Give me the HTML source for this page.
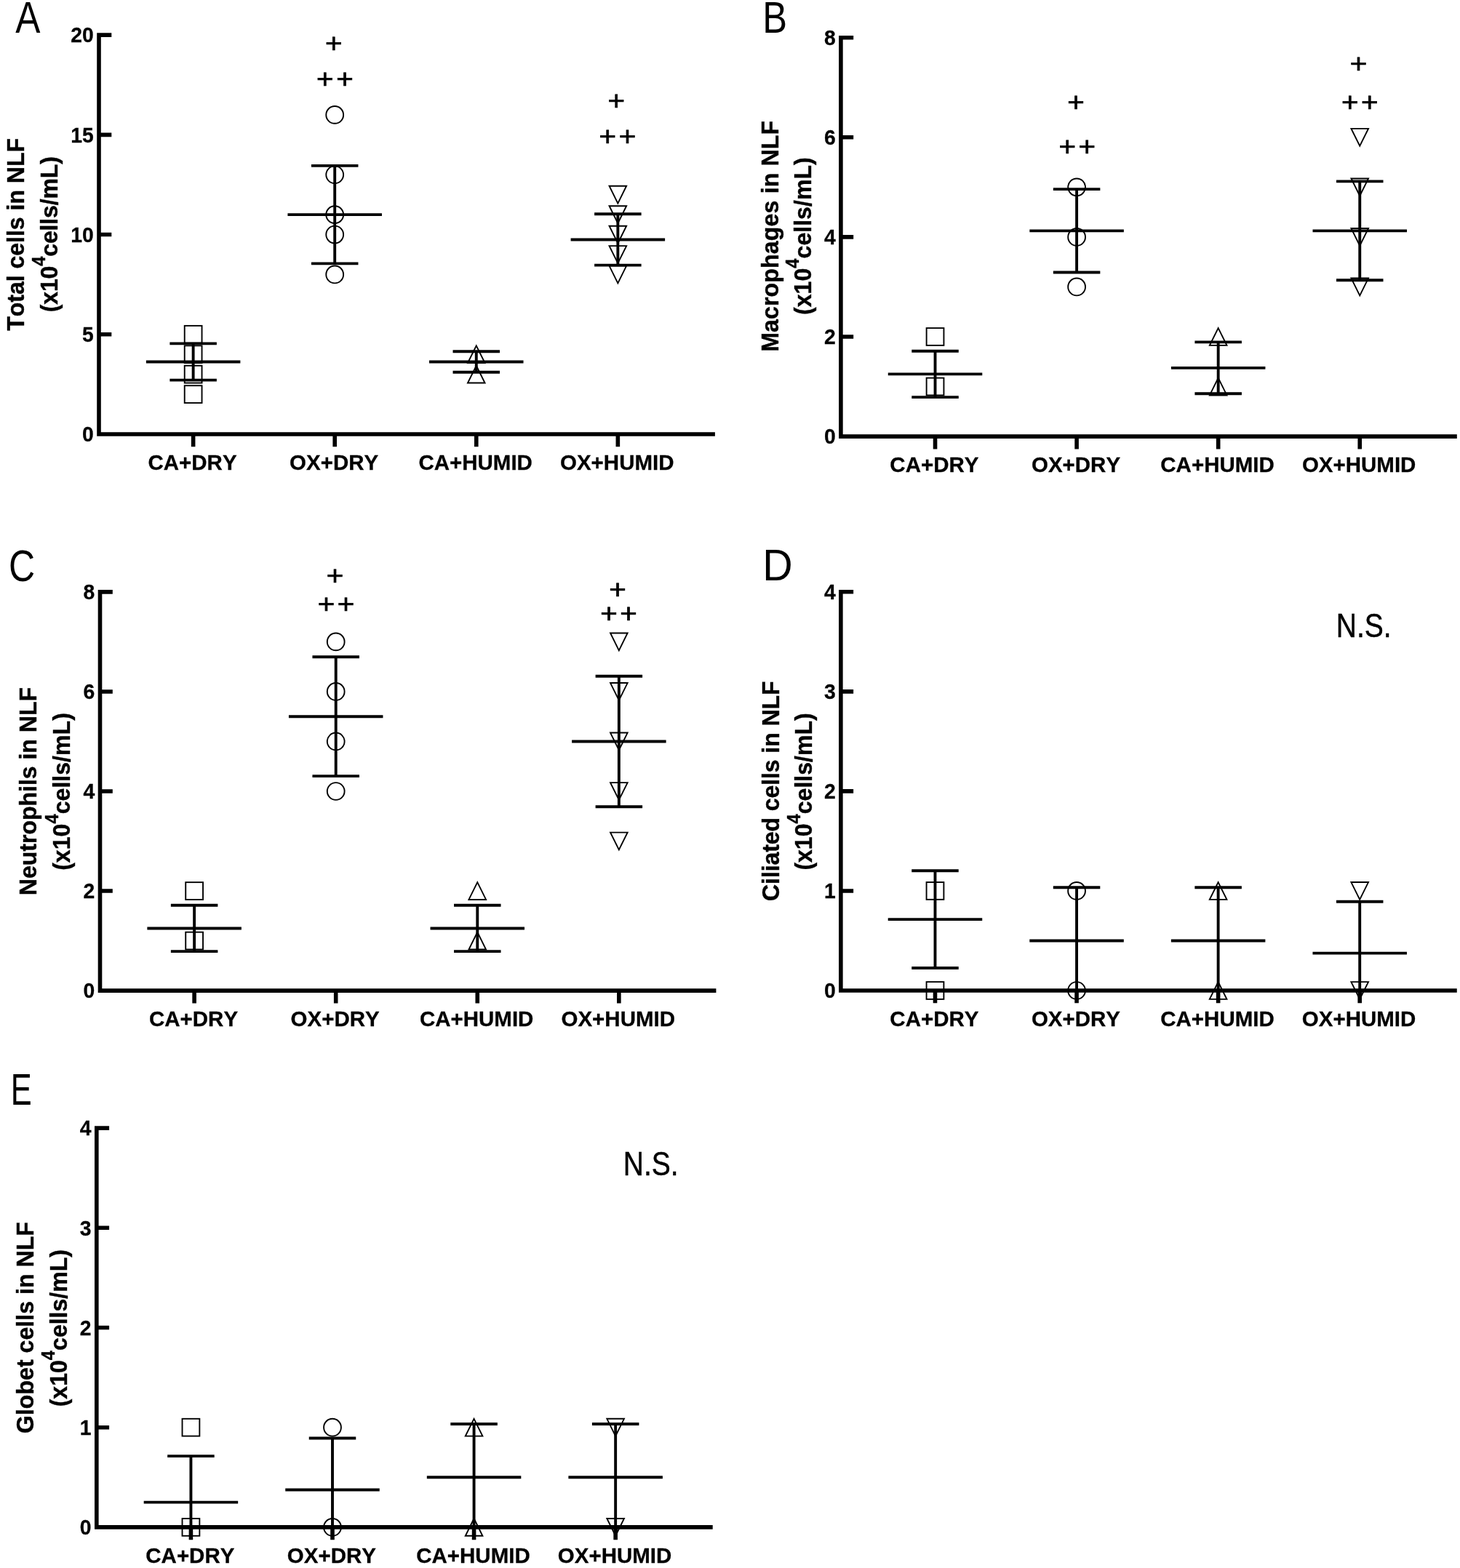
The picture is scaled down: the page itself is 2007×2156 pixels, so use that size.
<!DOCTYPE html>
<html lang="en">
<head>
<meta charset="utf-8">
<title>Cells in NLF</title>
<style>
html,body{margin:0;padding:0;background:#fff;}
body{width:2007px;height:2156px;overflow:hidden;}
svg{display:block;}
text{font-family:"Liberation Sans",Arial,Helvetica,sans-serif;fill:#000;font-kerning:none;}
.pl{font-size:60.3px;}
.ns{font-size:47px;stroke:#000;stroke-width:0.5px;}
.yt{font-size:32px;font-weight:bold;text-anchor:middle;stroke:#000;stroke-width:0.4px;}
.sup{font-size:23.8px;}
.y2{letter-spacing:-0.15px;}
.tl{font-size:29.5px;font-weight:bold;text-anchor:end;stroke:#000;stroke-width:0.3px;}
.xl{font-size:29.5px;font-weight:bold;text-anchor:middle;stroke:#000;stroke-width:0.3px;}
.ps{font-size:40.3px;stroke:#000;stroke-width:0.8px;}
.mk{fill:none;stroke:#000;stroke-width:1.9px;}
.eb{fill:none;stroke:#000;stroke-width:3.9px;}
.ax{fill:none;stroke:#000;stroke-width:5.6px;stroke-linejoin:miter;}
</style>
</head>
<body>
<svg xmlns="http://www.w3.org/2000/svg" width="2007" height="2156" viewBox="0 0 2007 2156">
<rect width="2007" height="2156" fill="#fff"/>
<g class="panel">
<text class="pl" transform="translate(21.3 45.1) scale(0.85 1)">A</text>
<text class="yt" style="letter-spacing:0px" transform="translate(32.9 322.38) rotate(-90) scale(1 1.065)">Total cells in NLF</text>
<text class="yt" style="letter-spacing:-0.15px" transform="translate(78.5 322.27) rotate(-90) scale(1 1.065)">(x10<tspan class="sup" dy="-15.3">4</tspan><tspan dy="15.3">cells/mL)</tspan></text>
<g class="mk">
<rect x="253.73" y="530.22" width="23.8" height="23.8"/>
<rect x="253.73" y="502.77" width="23.8" height="23.8"/>
<rect x="253.73" y="475.33" width="23.8" height="23.8"/>
<rect x="253.73" y="447.89" width="23.8" height="23.8"/>
<circle cx="460.2" cy="377.46" r="11.9"/>
<circle cx="460.2" cy="322.57" r="11.9"/>
<circle cx="460.2" cy="295.13" r="11.9"/>
<circle cx="460.2" cy="240.25" r="11.9"/>
<circle cx="460.2" cy="157.92" r="11.9"/>
<path d="M654.77 502.77L666.57 526.57L642.97 526.57Z"/>
<path d="M654.77 475.33L666.57 499.13L642.97 499.13Z"/>
<path d="M849.35 389.36L861.15 365.56L837.55 365.56Z"/>
<path d="M849.35 361.92L861.15 338.12L837.55 338.12Z"/>
<path d="M849.35 334.47L861.15 310.68L837.55 310.68Z"/>
<path d="M849.35 307.03L861.15 283.23L837.55 283.23Z"/>
<path d="M849.35 279.59L861.15 255.79L837.55 255.79Z"/>
</g>
<g class="eb">
<path d="M200.88 497.52H330.38M233.38 472.38H297.88M233.38 522.66H297.88M265.63 472.38V522.66"/>
<path d="M395.45 295.13H524.95M427.95 227.91H492.45M427.95 362.35H492.45M460.2 227.91V362.35"/>
<path d="M590.02 497.52H719.52M622.52 483.32H687.02M622.52 511.72H687.02M654.77 483.32V511.72"/>
<path d="M784.6 329.44H914.1M817.1 294.26H881.6M817.1 364.61H881.6M849.35 294.26V364.61"/>
</g>
<path class="ax" d="M136 45.35V597H982.9M136 459.79H153.3M136 322.57H153.3M136 185.36H153.3M136 48.15H153.3M265.63 597V614.3M460.2 597V614.3M654.77 597V614.3M849.35 597V614.3"/>
<text class="tl" transform="translate(128.8 607.2) scale(0.96 1)">0</text>
<text class="tl" transform="translate(128.8 469.99) scale(0.96 1)">5</text>
<text class="tl" transform="translate(128.8 332.77) scale(0.96 1)">10</text>
<text class="tl" transform="translate(128.8 195.56) scale(0.96 1)">15</text>
<text class="tl" transform="translate(128.8 58.35) scale(0.96 1)">20</text>
<text class="xl" transform="translate(264.53 645.7) scale(1 1.015)">CA+DRY</text>
<text class="xl" transform="translate(459.1 645.7) scale(1 1.015)">OX+DRY</text>
<text class="xl" transform="translate(653.67 645.7) scale(1 1.015)">CA+HUMID</text>
<text class="xl" transform="translate(848.25 645.7) scale(1 1.015)">OX+HUMID</text>
<text class="ps" transform="translate(458.8 60) scale(1 0.925)" x="-11.76" y="13.4">+</text>
<text class="ps" transform="translate(460.4 108.9) scale(1 0.925)" x="-25.31 1.79" y="13.4">++</text>
<text class="ps" transform="translate(847.3 138.6) scale(1 0.925)" x="-11.76" y="13.4">+</text>
<text class="ps" transform="translate(848.9 187.6) scale(1 0.925)" x="-25.31 1.79" y="13.4">++</text>
</g>
<g class="panel">
<text class="pl" transform="translate(1048.14 45.1) scale(0.84 1)">B</text>
<text class="yt" style="letter-spacing:0.2px" transform="translate(1069.5 324.75) rotate(-90) scale(1 1.065)">Macrophages in NLF</text>
<text class="yt" style="letter-spacing:0.05px" transform="translate(1114.5 324.65) rotate(-90) scale(1 1.065)">(x10<tspan class="sup" dy="-15.3">4</tspan><tspan dy="15.3">cells/mL)</tspan></text>
<g class="mk">
<rect x="1273.63" y="519.65" width="23.8" height="23.8"/>
<rect x="1273.63" y="451.1" width="23.8" height="23.8"/>
<circle cx="1480.1" cy="394.45" r="11.9"/>
<circle cx="1480.1" cy="325.9" r="11.9"/>
<circle cx="1480.1" cy="257.35" r="11.9"/>
<path d="M1674.67 519.65L1686.47 543.45L1662.87 543.45Z"/>
<path d="M1674.67 451.1L1686.47 474.9L1662.87 474.9Z"/>
<path d="M1869.25 406.35L1881.05 382.55L1857.45 382.55Z"/>
<path d="M1869.25 337.8L1881.05 314L1857.45 314Z"/>
<path d="M1869.25 269.25L1881.05 245.45L1857.45 245.45Z"/>
<path d="M1869.25 200.7L1881.05 176.9L1857.45 176.9Z"/>
</g>
<g class="eb">
<path d="M1220.78 514.41H1350.28M1253.28 482.68H1317.78M1253.28 546.14H1317.78M1285.53 482.68V546.14"/>
<path d="M1415.35 317.33H1544.85M1447.85 260.12H1512.35M1447.85 374.54H1512.35M1480.1 260.12V374.54"/>
<path d="M1609.92 505.84H1739.42M1642.42 470.37H1706.92M1642.42 541.32H1706.92M1674.67 470.37V541.32"/>
<path d="M1804.5 317.33H1934M1837 249.4H1901.5M1837 385.27H1901.5M1869.25 249.4V385.27"/>
</g>
<path class="ax" d="M1155.9 48.9V600.1H2002.8M1155.9 463H1173.2M1155.9 325.9H1173.2M1155.9 188.8H1173.2M1155.9 51.7H1173.2M1285.53 600.1V617.4M1480.1 600.1V617.4M1674.67 600.1V617.4M1869.25 600.1V617.4"/>
<text class="tl" transform="translate(1148.7 610.3) scale(0.96 1)">0</text>
<text class="tl" transform="translate(1148.7 473.2) scale(0.96 1)">2</text>
<text class="tl" transform="translate(1148.7 336.1) scale(0.96 1)">4</text>
<text class="tl" transform="translate(1148.7 199) scale(0.96 1)">6</text>
<text class="tl" transform="translate(1148.7 61.9) scale(0.96 1)">8</text>
<text class="xl" transform="translate(1284.43 648.8) scale(1 1.015)">CA+DRY</text>
<text class="xl" transform="translate(1479 648.8) scale(1 1.015)">OX+DRY</text>
<text class="xl" transform="translate(1673.57 648.8) scale(1 1.015)">CA+HUMID</text>
<text class="xl" transform="translate(1868.15 648.8) scale(1 1.015)">OX+HUMID</text>
<text class="ps" transform="translate(1479.1 140.9) scale(1 0.925)" x="-11.76" y="13.4">+</text>
<text class="ps" transform="translate(1480.7 201.2) scale(1 0.925)" x="-25.31 1.79" y="13.4">++</text>
<text class="ps" transform="translate(1867.6 87.5) scale(1 0.925)" x="-11.76" y="13.4">+</text>
<text class="ps" transform="translate(1869.2 140.2) scale(1 0.925)" x="-25.31 1.79" y="13.4">++</text>
</g>
<g class="panel">
<text class="pl" transform="translate(11.96 799.2) scale(0.83 1)">C</text>
<text class="yt" style="letter-spacing:0px" transform="translate(50.3 1088.1) rotate(-90) scale(1 1.065)">Neutrophils in NLF</text>
<text class="yt" style="letter-spacing:0.05px" transform="translate(96.1 1088.5) rotate(-90) scale(1 1.065)">(x10<tspan class="sup" dy="-15.3">4</tspan><tspan dy="15.3">cells/mL)</tspan></text>
<g class="mk">
<rect x="255.23" y="1281.67" width="23.8" height="23.8"/>
<rect x="255.23" y="1213.15" width="23.8" height="23.8"/>
<circle cx="461.7" cy="1088" r="11.9"/>
<circle cx="461.7" cy="1019.47" r="11.9"/>
<circle cx="461.7" cy="950.95" r="11.9"/>
<circle cx="461.7" cy="882.42" r="11.9"/>
<path d="M656.27 1281.67L668.07 1305.47L644.47 1305.47Z"/>
<path d="M656.27 1213.15L668.07 1236.95L644.47 1236.95Z"/>
<path d="M850.85 1168.42L862.65 1144.62L839.05 1144.62Z"/>
<path d="M850.85 1099.9L862.65 1076.1L839.05 1076.1Z"/>
<path d="M850.85 1031.38L862.65 1007.57L839.05 1007.57Z"/>
<path d="M850.85 962.85L862.65 939.05L839.05 939.05Z"/>
<path d="M850.85 894.32L862.65 870.52L839.05 870.52Z"/>
</g>
<g class="eb">
<path d="M202.38 1276.44H331.88M234.88 1244.72H299.38M234.88 1308.16H299.38M267.13 1244.72V1308.16"/>
<path d="M396.95 985.21H526.45M429.45 903.31H493.95M429.45 1067.12H493.95M461.7 903.31V1067.12"/>
<path d="M591.52 1276.44H721.02M624.02 1244.72H688.52M624.02 1308.16H688.52M656.27 1244.72V1308.16"/>
<path d="M786.1 1019.47H915.6M818.6 929.75H883.1M818.6 1109.2H883.1M850.85 929.75V1109.2"/>
</g>
<path class="ax" d="M137.5 811.1V1362.1H984.4M137.5 1225.05H154.8M137.5 1088H154.8M137.5 950.95H154.8M137.5 813.9H154.8M267.13 1362.1V1379.4M461.7 1362.1V1379.4M656.27 1362.1V1379.4M850.85 1362.1V1379.4"/>
<text class="tl" transform="translate(130.3 1372.3) scale(0.96 1)">0</text>
<text class="tl" transform="translate(130.3 1235.25) scale(0.96 1)">2</text>
<text class="tl" transform="translate(130.3 1098.2) scale(0.96 1)">4</text>
<text class="tl" transform="translate(130.3 961.15) scale(0.96 1)">6</text>
<text class="tl" transform="translate(130.3 824.1) scale(0.96 1)">8</text>
<text class="xl" transform="translate(266.03 1410.8) scale(1 1.015)">CA+DRY</text>
<text class="xl" transform="translate(460.6 1410.8) scale(1 1.015)">OX+DRY</text>
<text class="xl" transform="translate(655.17 1410.8) scale(1 1.015)">CA+HUMID</text>
<text class="xl" transform="translate(849.75 1410.8) scale(1 1.015)">OX+HUMID</text>
<text class="ps" transform="translate(460.4 791.15) scale(1 0.925)" x="-11.76" y="13.4">+</text>
<text class="ps" transform="translate(462 830.8) scale(1 0.925)" x="-25.31 1.79" y="13.4">++</text>
<text class="ps" transform="translate(848.9 810.9) scale(1 0.925)" x="-11.76" y="13.4">+</text>
<text class="ps" transform="translate(850.5 843.9) scale(1 0.925)" x="-25.31 1.79" y="13.4">++</text>
</g>
<g class="panel">
<text class="pl" transform="translate(1048.18 798.3) scale(0.95 1)">D</text>
<text class="yt" style="letter-spacing:-0.08px" transform="translate(1070.85 1087.8) rotate(-90) scale(1 1.065)">Ciliated cells in NLF</text>
<text class="yt" style="letter-spacing:0.02px" transform="translate(1116.35 1088.5) rotate(-90) scale(1 1.065)">(x10<tspan class="sup" dy="-15.3">4</tspan><tspan dy="15.3">cells/mL)</tspan></text>
<g class="mk">
<rect x="1273.58" y="1350.1" width="23.8" height="23.8"/>
<rect x="1273.58" y="1213.05" width="23.8" height="23.8"/>
<circle cx="1480.05" cy="1362" r="11.9"/>
<circle cx="1480.05" cy="1224.95" r="11.9"/>
<path d="M1674.62 1350.1L1686.42 1373.9L1662.82 1373.9Z"/>
<path d="M1674.62 1213.05L1686.42 1236.85L1662.82 1236.85Z"/>
<path d="M1869.2 1373.9L1881 1350.1L1857.4 1350.1Z"/>
<path d="M1869.2 1236.85L1881 1213.05L1857.4 1213.05Z"/>
</g>
<g class="eb">
<path d="M1220.73 1264.11H1350.23M1253.23 1197.23H1317.73M1253.23 1330.98H1317.73M1285.48 1197.23V1330.98"/>
<path d="M1415.3 1293.47H1544.8M1447.8 1220.22H1512.3M1480.05 1220.22V1362"/>
<path d="M1609.87 1293.47H1739.37M1642.37 1220.22H1706.87M1674.62 1220.22V1362"/>
<path d="M1804.45 1310.61H1933.95M1836.95 1239.68H1901.45M1869.2 1239.68V1362"/>
</g>
<path class="ax" d="M1155.85 811V1362H2002.75M1155.85 1224.95H1173.15M1155.85 1087.9H1173.15M1155.85 950.85H1173.15M1155.85 813.8H1173.15M1285.48 1362V1379.3M1480.05 1362V1379.3M1674.62 1362V1379.3M1869.2 1362V1379.3"/>
<text class="tl" transform="translate(1148.65 1372.2) scale(0.96 1)">0</text>
<text class="tl" transform="translate(1148.65 1235.15) scale(0.96 1)">1</text>
<text class="tl" transform="translate(1148.65 1098.1) scale(0.96 1)">2</text>
<text class="tl" transform="translate(1148.65 961.05) scale(0.96 1)">3</text>
<text class="tl" transform="translate(1148.65 824) scale(0.96 1)">4</text>
<text class="xl" transform="translate(1284.38 1410.7) scale(1 1.015)">CA+DRY</text>
<text class="xl" transform="translate(1478.95 1410.7) scale(1 1.015)">OX+DRY</text>
<text class="xl" transform="translate(1673.52 1410.7) scale(1 1.015)">CA+HUMID</text>
<text class="xl" transform="translate(1868.1 1410.7) scale(1 1.015)">OX+HUMID</text>
<text class="ns" transform="translate(1836.8 875.5) scale(0.83 1)">N.S.</text>
</g>
<g class="panel">
<text class="pl" transform="translate(14.73 1519.2) scale(0.72 1)">E</text>
<text class="yt" style="letter-spacing:0.06px" transform="translate(46.4 1825.6) rotate(-90) scale(1 1.065)">Globet cells in NLF</text>
<text class="yt" style="letter-spacing:0.02px" transform="translate(91.6 1826.2) rotate(-90) scale(1 1.065)">(x10<tspan class="sup" dy="-15.3">4</tspan><tspan dy="15.3">cells/mL)</tspan></text>
<g class="mk">
<rect x="250.53" y="2088" width="23.8" height="23.8"/>
<rect x="250.53" y="1950.8" width="23.8" height="23.8"/>
<circle cx="457" cy="2099.9" r="11.9"/>
<circle cx="457" cy="1962.7" r="11.9"/>
<path d="M651.57 2088L663.37 2111.8L639.77 2111.8Z"/>
<path d="M651.57 1950.8L663.37 1974.6L639.77 1974.6Z"/>
<path d="M846.15 2111.8L857.95 2088L834.35 2088Z"/>
<path d="M846.15 1974.6L857.95 1950.8L834.35 1950.8Z"/>
</g>
<g class="eb">
<path d="M197.68 2065.6H327.18M230.18 2002.09H294.68M262.43 2002.09V2099.9"/>
<path d="M392.25 2048.45H521.75M424.75 1977.44H489.25M457 1977.44V2099.9"/>
<path d="M586.82 2031.3H716.32M619.32 1957.96H683.82M651.57 1957.96V2099.9"/>
<path d="M781.4 2031.3H910.9M813.9 1957.96H878.4M846.15 1957.96V2099.9"/>
</g>
<path class="ax" d="M132.8 1548.3V2099.9H979.7M132.8 1962.7H150.1M132.8 1825.5H150.1M132.8 1688.3H150.1M132.8 1551.1H150.1M262.43 2099.9V2117.2M457 2099.9V2117.2M651.57 2099.9V2117.2M846.15 2099.9V2117.2"/>
<text class="tl" transform="translate(125.6 2110.1) scale(0.96 1)">0</text>
<text class="tl" transform="translate(125.6 1972.9) scale(0.96 1)">1</text>
<text class="tl" transform="translate(125.6 1835.7) scale(0.96 1)">2</text>
<text class="tl" transform="translate(125.6 1698.5) scale(0.96 1)">3</text>
<text class="tl" transform="translate(125.6 1561.3) scale(0.96 1)">4</text>
<text class="xl" transform="translate(261.33 2148.6) scale(1 1.015)">CA+DRY</text>
<text class="xl" transform="translate(455.9 2148.6) scale(1 1.015)">OX+DRY</text>
<text class="xl" transform="translate(650.47 2148.6) scale(1 1.015)">CA+HUMID</text>
<text class="xl" transform="translate(845.05 2148.6) scale(1 1.015)">OX+HUMID</text>
<text class="ns" transform="translate(856.8 1616.4) scale(0.83 1)">N.S.</text>
</g>
</svg>
</body>
</html>
